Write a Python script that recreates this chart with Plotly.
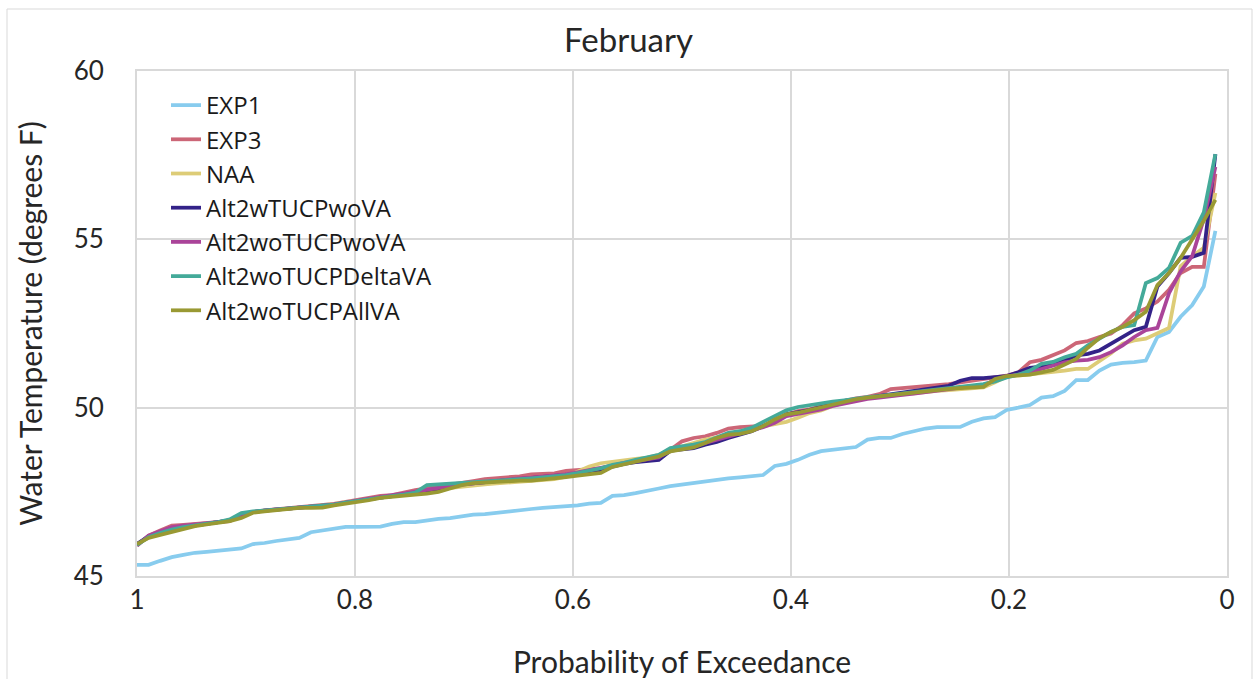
import numpy as np
import plotly.graph_objects as go

series_names = ["EXP1", "EXP3", "NAA", "Alt2wTUCPwoVA", "Alt2woTUCPwoVA",
                "Alt2woTUCPDeltaVA", "Alt2woTUCPAllVA"]
colors = ["#88CCEE", "#CC6677", "#DDCC77", "#332288", "#AA4499", "#44AA99", "#999933"]

exp1 = [45.33, 45.33, 45.45, 45.56, 45.63, 45.69, 45.72, 45.76, 45.79, 45.82,
        45.95, 45.98, 46.04, 46.08, 46.13, 46.30, 46.36, 46.42, 46.46, 46.46,
        46.46, 46.47, 46.55, 46.60, 46.60, 46.65, 46.70, 46.72, 46.78, 46.82,
        46.84, 46.88, 46.93, 46.96, 46.99, 47.02, 47.04, 47.07, 47.10, 47.15,
        47.17, 47.38, 47.40, 47.46, 47.52, 47.60, 47.67, 47.72, 47.77, 47.82,
        47.86, 47.90, 47.93, 47.97, 48.00, 48.27, 48.33, 48.45, 48.60, 48.71,
        48.75, 48.80, 48.83, 49.05, 49.10, 49.10, 49.22, 49.30, 49.38, 49.42,
        49.43, 49.43, 49.58, 49.68, 49.72, 49.93, 50.00, 50.08, 50.30, 50.34,
        50.50, 50.82, 50.82, 51.10, 51.28, 51.33, 51.35, 51.40, 52.10, 52.25,
        52.70, 53.05, 53.60, 55.25]

exp3 = [45.90, 46.20, 46.35, 46.50, 46.52, 46.55, 46.57, 46.60, 46.63, 46.80,
        46.90, 46.95, 46.98, 47.02, 47.05, 47.08, 47.10, 47.14, 47.20, 47.26,
        47.30, 47.38, 47.40, 47.48, 47.55, 47.60, 47.65, 47.70, 47.75, 47.82,
        47.88, 47.90, 47.94, 47.96, 48.02, 48.03, 48.05, 48.12, 48.15, 48.18,
        48.20, 48.28, 48.35, 48.42, 48.45, 48.55, 48.75, 49.00, 49.10, 49.15,
        49.25, 49.38, 49.42, 49.44, 49.46, 49.60, 49.80, 49.90, 49.95, 50.05,
        50.12, 50.20, 50.28, 50.32, 50.40, 50.55, 50.58, 50.60, 50.62, 50.66,
        50.70, 50.75, 50.80, 50.85, 50.90, 50.95, 51.05, 51.35, 51.42, 51.55,
        51.70, 51.92, 51.98, 52.10, 52.20, 52.45, 52.80, 52.95, 53.15, 53.50,
        54.00, 54.18, 54.18, 56.95]

naa = [45.95, 46.15, 46.30, 46.40, 46.48, 46.52, 46.55, 46.60, 46.65, 46.75,
       46.90, 46.93, 46.97, 47.00, 47.03, 47.06, 47.10, 47.14, 47.20, 47.24,
       47.28, 47.33, 47.37, 47.42, 47.45, 47.50, 47.58, 47.62, 47.66, 47.70,
       47.72, 47.75, 47.78, 47.80, 47.82, 47.85, 47.88, 47.95, 48.10, 48.25,
       48.35, 48.40, 48.45, 48.48, 48.52, 48.60, 48.75, 48.85, 48.95, 49.05,
       49.12, 49.22, 49.30, 49.38, 49.45, 49.50, 49.58, 49.70, 49.84, 49.92,
       50.05, 50.15, 50.22, 50.28, 50.32, 50.36, 50.40, 50.44, 50.47, 50.50,
       50.52, 50.55, 50.57, 50.60, 50.75, 50.92, 50.95, 50.98, 51.02, 51.06,
       51.10, 51.15, 51.15, 51.38, 51.62, 51.90, 52.00, 52.05, 52.20, 52.37,
       54.20, 54.50, 54.75, 56.38]

alt2w_wo = [45.95, 46.18, 46.28, 46.38, 46.45, 46.50, 46.55, 46.60, 46.65, 46.78,
            46.90, 46.94, 46.97, 47.00, 47.03, 47.05, 47.08, 47.12, 47.18, 47.22,
            47.28, 47.33, 47.38, 47.42, 47.45, 47.50, 47.60, 47.68, 47.72, 47.76,
            47.79, 47.82, 47.85, 47.88, 47.90, 47.93, 47.96, 48.00, 48.04, 48.08,
            48.12, 48.25, 48.33, 48.38, 48.42, 48.45, 48.72, 48.76, 48.80, 48.90,
            48.98, 49.10, 49.20, 49.30, 49.45, 49.60, 49.80, 49.86, 49.93, 50.02,
            50.12, 50.20, 50.25, 50.30, 50.35, 50.40, 50.45, 50.50, 50.55, 50.60,
            50.65, 50.80, 50.88, 50.88, 50.90, 50.94, 51.05, 51.18, 51.22, 51.30,
            51.40, 51.55, 51.60, 51.70, 51.90, 52.10, 52.30, 52.40, 53.60, 54.00,
            54.45, 54.48, 54.60, 57.53]

alt2wo_wo = [45.90, 46.20, 46.33, 46.45, 46.50, 46.53, 46.56, 46.60, 46.65, 46.80,
             46.90, 46.95, 46.98, 47.00, 47.04, 47.06, 47.08, 47.12, 47.18, 47.24,
             47.30, 47.35, 47.40, 47.45, 47.50, 47.55, 47.62, 47.68, 47.72, 47.76,
             47.80, 47.84, 47.88, 47.90, 47.92, 47.95, 47.98, 48.02, 48.08, 48.14,
             48.20, 48.28, 48.36, 48.42, 48.48, 48.52, 48.75, 48.80, 48.85, 48.95,
             49.05, 49.15, 49.25, 49.33, 49.42, 49.55, 49.75, 49.82, 49.88, 49.95,
             50.05, 50.12, 50.20, 50.26, 50.30, 50.35, 50.38, 50.42, 50.46, 50.50,
             50.55, 50.58, 50.62, 50.68, 50.80, 50.92, 50.98, 51.05, 51.15, 51.25,
             51.35, 51.40, 51.42, 51.50, 51.65, 51.85, 52.10, 52.30, 52.37, 53.40,
             54.05, 54.50, 55.60, 57.15]

alt2wo_delta = [45.92, 46.15, 46.28, 46.38, 46.45, 46.50, 46.55, 46.60, 46.68, 46.87,
                46.92, 46.95, 46.98, 47.00, 47.03, 47.05, 47.08, 47.12, 47.18, 47.22,
                47.28, 47.33, 47.37, 47.42, 47.48, 47.70, 47.72, 47.74, 47.78, 47.80,
                47.82, 47.84, 47.86, 47.88, 47.90, 47.93, 47.96, 48.00, 48.06, 48.12,
                48.20, 48.30, 48.36, 48.45, 48.52, 48.60, 48.80, 48.85, 48.90, 48.98,
                49.12, 49.25, 49.30, 49.40, 49.58, 49.75, 49.92, 50.02, 50.08, 50.14,
                50.18, 50.22, 50.27, 50.31, 50.34, 50.38, 50.42, 50.46, 50.50, 50.54,
                50.58, 50.62, 50.66, 50.70, 50.78, 50.90, 50.98, 51.10, 51.30, 51.36,
                51.50, 51.60, 51.85, 52.05, 52.25, 52.40, 52.45, 53.70, 53.85, 54.15,
                54.90, 55.10, 55.80, 57.53]

alt2wo_all = [45.95, 46.13, 46.22, 46.30, 46.38, 46.48, 46.53, 46.58, 46.63, 46.72,
              46.88, 46.92, 46.95, 46.98, 47.02, 47.02, 47.03, 47.10, 47.15, 47.18,
              47.25, 47.32, 47.36, 47.40, 47.42, 47.45, 47.50, 47.60, 47.70, 47.76,
              47.78, 47.80, 47.82, 47.83, 47.83, 47.86, 47.90, 47.94, 47.98, 48.02,
              48.06, 48.24, 48.32, 48.40, 48.48, 48.55, 48.70, 48.75, 48.82, 48.95,
              49.10, 49.20, 49.22, 49.30, 49.45, 49.65, 49.80, 49.85, 49.93, 50.00,
              50.10, 50.18, 50.25, 50.30, 50.34, 50.38, 50.42, 50.46, 50.50, 50.53,
              50.56, 50.58, 50.60, 50.62, 50.85, 50.94, 50.96, 50.98, 51.05, 51.12,
              51.28, 51.45, 51.78, 52.07, 52.25, 52.40, 52.60, 52.85, 53.64, 54.00,
              54.45, 55.00, 55.55, 56.17]

all_series = [exp1, exp3, naa, alt2w_wo, alt2wo_wo, alt2wo_delta, alt2wo_all]

n = len(exp1)
prob = 1 - np.arange(n) / n  # probability of exceedance (plotting position)

x_ticks = [1, 0.8, 0.6, 0.4, 0.2, 0]
x_tick_labels = ["1", "0.8", "0.6", "0.4", "0.2", "0"]
y_ticks = [45, 50, 55, 60]

FONT = "Lato, 'Open Sans', sans-serif"
LEG_FONT = "'Open Sans', Lato, sans-serif"
GRID = "#d9d9d9"
TXT = "#262626"

fig = go.Figure()
for name, vals, col in zip(series_names, all_series, colors):
    fig.add_trace(go.Scatter(x=prob, y=vals, mode="lines", name=name,
                             line=dict(color=col, width=3.75)))

# plot area: left 137, right 1227, top 71, bottom 576
L, R, T, B = 137, 1227, 71, 576
W, H = 1257, 679
pw, ph = R - L, B - T

def px2paper_x(px):
    return (px - L) / pw

def px2paper_y(py):
    return (B - py) / ph

fig.add_shape(type="rect", xref="paper", yref="paper",
              x0=px2paper_x(7), x1=px2paper_x(1252),
              y0=px2paper_y(700), y1=px2paper_y(9),
              line=dict(color="#d9d9d9", width=1), fillcolor="rgba(0,0,0,0)",
              layer="below")

fig.update_layout(
    width=W, height=H,
    margin=dict(l=L, r=W - R, t=T, b=H - B),
    paper_bgcolor="white", plot_bgcolor="white",
    font=dict(family=FONT, color=TXT),
    title=dict(text="February", x=0.5, xref="container", xanchor="center",
               y=1 - 40 / H, yanchor="middle",
               font=dict(size=33, color=TXT, family=FONT)),
    showlegend=True,
    legend=dict(x=px2paper_x(166), y=px2paper_y(83), xanchor="left", yanchor="top",
                bgcolor="rgba(255,255,255,0)", borderwidth=0,
                font=dict(size=24, color="#1a1a1a", family=LEG_FONT),
                traceorder="normal"),
    xaxis=dict(range=[1, 0], tickvals=x_ticks, ticktext=x_tick_labels,
               showgrid=True, gridcolor=GRID, gridwidth=2,
               showline=True, linecolor=GRID, linewidth=2, mirror=True,
               zeroline=False, ticks="", ticklen=0, automargin=False,
               tickfont=dict(size=26, color=TXT, family=FONT),
               title=dict(text="Probability of Exceedance", standoff=42,
                          font=dict(size=30, color=TXT, family=FONT))),
    yaxis=dict(range=[45, 60], tickvals=y_ticks,
               showgrid=True, gridcolor=GRID, gridwidth=2,
               showline=True, linecolor=GRID, linewidth=2, mirror=True,
               zeroline=False, ticks="", ticklen=0, ticklabelstandoff=26,
               tickfont=dict(size=26, color=TXT, family=FONT),
               title=dict(text="Water Temperature (degrees F)", standoff=22,
                          font=dict(size=30, color=TXT, family=FONT))),
)

fig.write_html("out.html")
